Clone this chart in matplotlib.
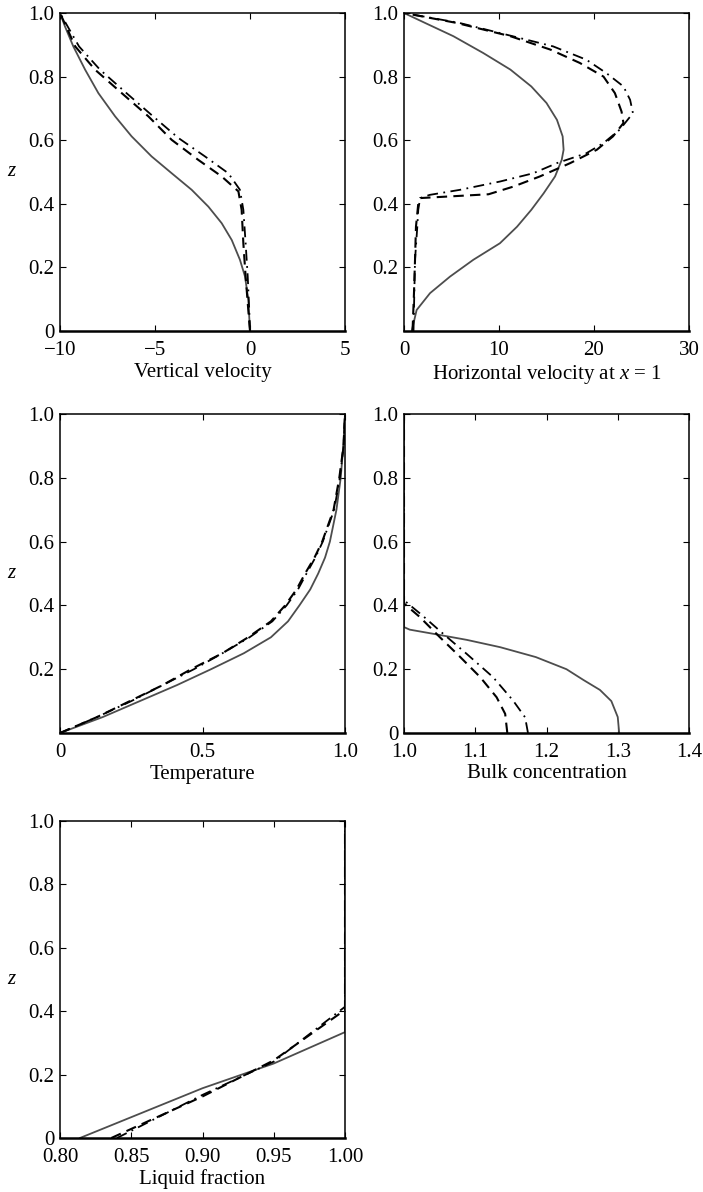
import numpy as np
import matplotlib
matplotlib.use('Agg')
import matplotlib.pyplot as plt

plt.rcParams['font.family'] = 'Liberation Serif'
plt.rcParams['mathtext.fontset'] = 'custom'
plt.rcParams['mathtext.rm'] = 'Liberation Serif'
plt.rcParams['mathtext.it'] = 'Liberation Serif:italic'
plt.rcParams['font.size'] = 15

#------ DATA

# Vertical velocity
vv_z_solid = [0.0, 0.098, 0.171, 0.224, 0.286, 0.339, 0.391, 0.444, 0.496, 0.549,
              0.612, 0.675, 0.748, 0.822, 0.895, 0.958, 1.0]
vv_solid = [0.0, -0.09, -0.26, -0.53, -0.96, -1.49, -2.19, -3.07, -4.12, -5.18,
            -6.23, -7.1, -7.98, -8.68, -9.3, -9.74, -10.0]
vv_z_dash = [0.0, 0.066, 0.171, 0.276, 0.381, 0.439, 0.486, 0.538, 0.601, 0.675,
             0.748, 0.822, 0.895, 1.0]
vv_dash = [0.0, -0.09, -0.23, -0.35, -0.44, -0.61, -1.49, -2.72, -4.12, -5.35,
           -6.75, -8.16, -9.2, -10.0]
vv_z_dashdot = [0.0, 0.066, 0.171, 0.276, 0.381, 0.444, 0.496, 0.549, 0.607, 0.675,
                0.748, 0.822, 0.895, 1.0]
vv_dashdot = [0.0, -0.04, -0.12, -0.23, -0.35, -0.53, -1.14, -2.37, -3.77, -5.1,
              -6.5, -7.9, -9.0, -10.0]

# Horizontal velocity at x = 1
hv_z_solid = [0.0, 0.066, 0.119, 0.171, 0.224, 0.276, 0.328, 0.381, 0.433, 0.486,
              0.538, 0.57, 0.612, 0.664, 0.717, 0.769, 0.822, 0.874, 0.927, 0.969, 1.0]
hv_solid = [0.81, 1.33, 2.74, 4.84, 7.3, 10.1, 11.9, 13.4, 14.7, 15.9,
            16.6, 16.8, 16.7, 16.1, 15.0, 13.4, 11.2, 8.35, 5.2, 2.2, 0.0]
hv_z_dash = [0.0, 0.119, 0.224, 0.328, 0.4, 0.418, 0.43, 0.454, 0.486, 0.528,
             0.57, 0.612, 0.654, 0.69, 0.748, 0.8, 0.843, 0.885, 0.927, 0.969, 1.0]
hv_dash = [0.9, 1.05, 1.16, 1.26, 1.5, 1.7, 8.9, 11.5, 14.3, 17.5,
           20.3, 22.0, 23.1, 22.9, 22.2, 21.0, 18.5, 15.4, 11.2, 5.5, 0.0]
hv_z_dashdot = [0.0, 0.224, 0.328, 0.381, 0.418, 0.428, 0.444, 0.47, 0.496, 0.528,
                0.559, 0.591, 0.633, 0.685, 0.727, 0.769, 0.811, 0.853, 0.895, 0.937,
                0.969, 1.0]
hv_dashdot = [1.0, 1.16, 1.4, 1.5, 1.7, 2.7, 5.9, 10.1, 13.6, 16.1,
              19.2, 21.0, 22.7, 24.1, 23.8, 23.1, 21.3, 19.2, 15.7, 10.1,
              5.8, 0.0]

# Temperature
t_z = [0.0, 0.05, 0.1, 0.15, 0.2, 0.25, 0.3, 0.35, 0.4, 0.45, 0.5, 0.55, 0.6, 0.7, 0.8, 0.9, 1.0]
t_solid = [0.0, 0.15, 0.28, 0.41, 0.53, 0.645, 0.74, 0.8, 0.84, 0.878, 0.906, 0.93, 0.947,
           0.97, 0.985, 0.994, 1.0]
t_dash = [0.0, 0.13, 0.245, 0.36, 0.46, 0.57, 0.66, 0.74, 0.79, 0.83, 0.86, 0.893, 0.92,
          0.96, 0.98, 0.995, 1.0]
t_dashdot = [0.0, 0.13, 0.25, 0.36, 0.47, 0.57, 0.665, 0.745, 0.795, 0.835, 0.865, 0.896, 0.922,
             0.962, 0.982, 0.995, 1.0]

# Bulk concentration
bc_z_solid = [0.0, 0.05, 0.1, 0.135, 0.166, 0.2, 0.238, 0.269, 0.292, 0.311, 0.324, 0.332, 1.0]
bc_solid = [1.302, 1.30, 1.291, 1.275, 1.252, 1.228, 1.185, 1.135, 1.088, 1.041, 1.008, 1.0, 1.0]
bc_z_dash = [0.0, 0.06, 0.112, 0.175, 0.238, 0.301, 0.364, 0.406, 1.0]
bc_dash = [1.145, 1.142, 1.13, 1.107, 1.079, 1.05, 1.022, 1.0, 1.0]
bc_z_dashdot = [0.0, 0.049, 0.102, 0.175, 0.248, 0.311, 0.37, 0.416, 1.0]
bc_dashdot = [1.174, 1.17, 1.153, 1.125, 1.088, 1.055, 1.025, 1.0, 1.0]

# Liquid fraction
lf_z_solid = [0.0, 0.157, 0.235, 0.334, 1.0]
lf_solid = [0.814, 0.9, 0.95, 1.0, 1.0]
lf_z_dash = [0.0, 0.131, 0.245, 0.404, 1.0]
lf_dash = [0.836, 0.9, 0.95, 1.0, 1.0]
lf_z_dashdot = [0.0, 0.136, 0.241, 0.414, 1.0]
lf_dashdot = [0.84, 0.9, 0.95, 1.0, 1.0]

#------ ESTILO

cinza = '#4d4d4d'
st_solid = dict(color=cinza, lw=1.3, ls='-')
st_dash = dict(color='black', lw=1.5, ls=(0, (5, 3)))
st_dashdot = dict(color='black', lw=1.3, ls=(0, (6, 3, 1, 3)))

fig = plt.figure(figsize=(7.03, 11.92), dpi=100)

W, H = 703, 1192


def eixo(l, t, r, b):
    return fig.add_axes([l / W, 1 - b / H, (r - l) / W, (b - t) / H])


def enfeita(ax, xlim, xticks, xlabels, yticks, ylabels, xlabel, ylabel=True):
    ax.set_xlim(xlim)
    ax.set_ylim(0, 1)
    ax.set_xticks(xticks)
    ax.set_xticklabels(xlabels)
    ax.set_yticks(yticks)
    ax.set_yticklabels(ylabels)
    ax.tick_params(direction='in', length=4, width=0.8, top=True, right=True)
    ax.tick_params(axis='x', pad=7)
    ax.tick_params(axis='y', pad=4)
    for s in ax.spines.values():
        s.set_linewidth(1.1)
    ax.spines['bottom'].set_linewidth(1.8)
    ax.set_xlabel(xlabel, labelpad=2)
    if ylabel:
        ax.set_ylabel('$z$', rotation=0, labelpad=12, va='center')


yt_full = [0, 0.2, 0.4, 0.6, 0.8, 1.0]
yl_full = ['0', '0.2', '0.4', '0.6', '0.8', '1.0']
yt_part = [0.2, 0.4, 0.6, 0.8, 1.0]
yl_part = ['0.2', '0.4', '0.6', '0.8', '1.0']

# Painel 1
ax1 = eixo(60, 13, 345, 331)
ax1.plot(vv_solid, vv_z_solid, **st_solid)
ax1.plot(vv_dash, vv_z_dash, **st_dash)
ax1.plot(vv_dashdot, vv_z_dashdot, **st_dashdot)
enfeita(ax1, (-10, 5), [-10, -5, 0, 5], ['\u221210', '\u22125', '0', '5'],
        yt_full, yl_full, 'Vertical velocity')

# Painel 2
ax2 = eixo(404, 13, 689, 331)
ax2.plot(hv_solid, hv_z_solid, **st_solid)
ax2.plot(hv_dash, hv_z_dash, **st_dash)
ax2.plot(hv_dashdot, hv_z_dashdot, **st_dashdot)
enfeita(ax2, (0, 30), [0, 10, 20, 30], ['0', '10', '20', '30'],
        yt_part, yl_part, 'Horizontal velocity at $x$ = 1', ylabel=False)

# Painel 3
ax3 = eixo(60, 414, 345, 733)
ax3.plot(t_solid, t_z, **st_solid)
ax3.plot(t_dash, t_z, **st_dash)
ax3.plot(t_dashdot, t_z, **st_dashdot)
enfeita(ax3, (0, 1), [0, 0.5, 1.0], ['0', '0.5', '1.0'],
        yt_part, yl_part, 'Temperature')

# Painel 4
ax4 = eixo(404, 414, 689, 733)
ax4.plot(bc_solid, bc_z_solid, **st_solid)
ax4.plot(bc_dash, bc_z_dash, **st_dash)
ax4.plot(bc_dashdot, bc_z_dashdot, **st_dashdot)
enfeita(ax4, (1.0, 1.4), [1.0, 1.1, 1.2, 1.3, 1.4], ['1.0', '1.1', '1.2', '1.3', '1.4'],
        yt_full, yl_full, 'Bulk concentration', ylabel=False)

# Painel 5
ax5 = eixo(60, 821, 345, 1138)
ax5.plot(lf_solid, lf_z_solid, **st_solid)
ax5.plot(lf_dash, lf_z_dash, **st_dash)
ax5.plot(lf_dashdot, lf_z_dashdot, **st_dashdot)
enfeita(ax5, (0.8, 1.0), [0.8, 0.85, 0.9, 0.95, 1.0],
        ['0.80', '0.85', '0.90', '0.95', '1.00'],
        yt_full, yl_full, 'Liquid fraction')

fig.savefig('out.png', dpi=100)
